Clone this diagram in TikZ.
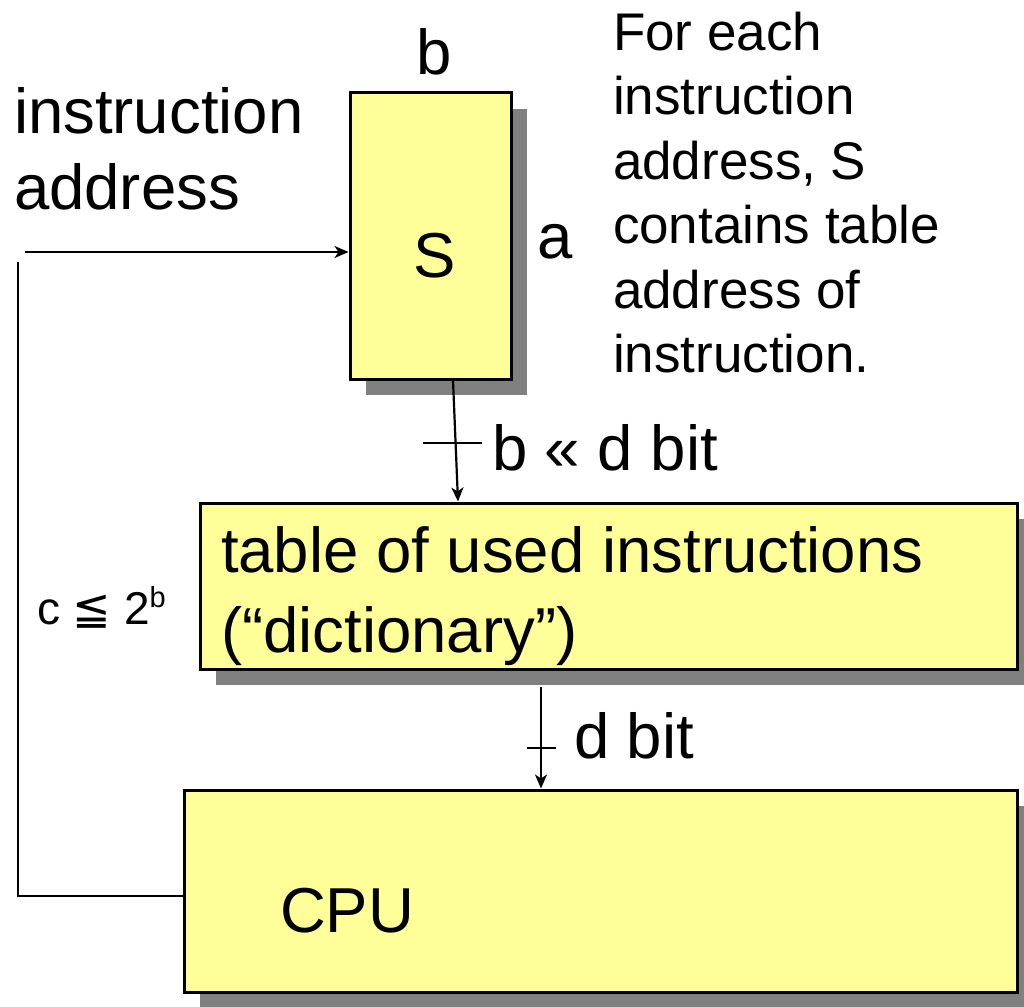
\documentclass[tikz,border=0pt]{standalone}
\usepackage{fontspec}
\setmainfont{Liberation Sans}
\newfontfamily\symfnt{DejaVu Sans}
\usetikzlibrary{shadows,arrows.meta}
\definecolor{boxyellow}{HTML}{FFFF99}
\tikzset{
  box/.style={draw=black, line width=3pt, fill=boxyellow, inner sep=0pt,
    drop shadow={shadow xshift=16pt, shadow yshift=-16pt, fill=black!50, opacity=1}},
  conn/.style={line width=2.2pt},
  arr/.style={line width=2.2pt, -{Stealth[length=14pt,width=12pt,inset=4pt]}},
  txt/.style={inner sep=0pt, outer sep=0pt},
  big/.style={font=\fontsize{63.5}{76}\selectfont},
  mid/.style={font=\fontsize{53}{64.5}\selectfont},
}
\begin{document}
\begin{tikzpicture}[x=1pt,y=-1pt]
\useasboundingbox (0,0) rectangle (1024,1006);
% boxes
\node[box, minimum width=161pt, minimum height=286pt] (S) at (430.5,236) {};
\node[box, minimum width=817pt, minimum height=166pt] (T) at (608.5,586) {};
\node[box, minimum width=833pt, minimum height=202pt] (C) at (600.5,891) {};
% texts inside boxes
\node[txt, big, anchor=base] (Stxt) at (435,277) {S};
\node[txt, big, anchor=base west] (Ctxt) at (280,932) {CPU};
\node[txt, font=\fontsize{63.5}{80}\selectfont, anchor=north west, align=left] (Ttxt) at (221,526) {table of used instructions\\(“dictionary”)};
% labels
\node[txt, big, anchor=base] (blab) at (434,75) {b};
\node[txt, big, anchor=base west] (alab) at (537,258) {a};
\node[txt, big, anchor=north west, align=left] (inlab) at (14,87) {instruction\\address};
\node[txt, mid, anchor=north west, align=left] (note) at (613,12) {For each\\instruction\\address, S\\contains table\\address of\\instruction.};
\node[txt, big, anchor=base west] (bd) at (492,470) {b « d bit};
\node[txt, big, anchor=base west] (dd) at (574,758) {d bit};
\node[txt, font=\fontsize{46}{54}\selectfont, anchor=base west] (cl) at (37,624) {c {\symfnt ≦} 2\raisebox{17pt}{\fontsize{29}{32}\selectfont b}};
% connectors
\coordinate (inA) at (25,252);
\coordinate (fbT) at (18,262);
\coordinate (fbB) at (18,896);
\draw[arr] (inA) -- (inA -| S.west);
\draw[conn] (fbT) -- (fbB) -- (fbB -| C.west);
\draw[arr] ([xshift=22.5pt]S.south) -- ([xshift=-150.5pt]T.north);
\draw[conn] (423,443) -- (482,443);
\draw[arr] ([xshift=-67.5pt,yshift=-16pt]T.south) -- ([xshift=-59.5pt]C.north);
\draw[conn] (527,748) -- (556,748);
\end{tikzpicture}
\end{document}
